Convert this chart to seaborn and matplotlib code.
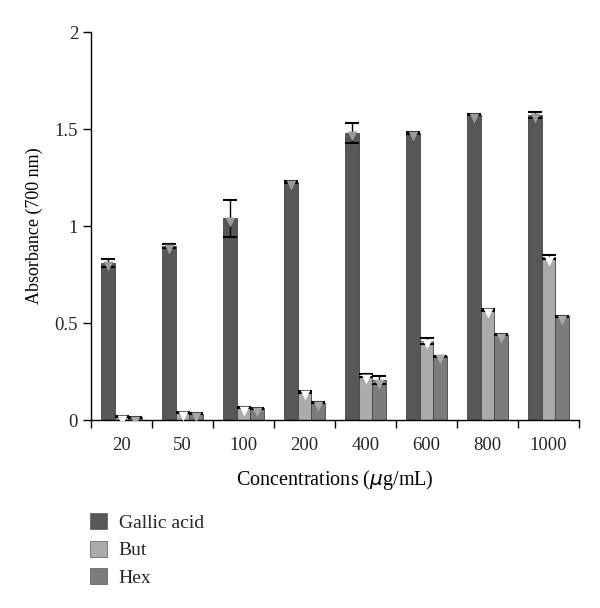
import pandas as pd
import numpy as np
import matplotlib.pyplot as plt
import seaborn as sns

sns.set_theme(style="white")
plt.rcParams["font.family"] = ["Liberation Serif", "DejaVu Serif"]

# ── Data ──────────────────────────────────────────────────
concentrations = ["20", "50", "100", "200", "400", "600", "800", "1000"]
samples = ["Gallic acid", "But", "Hex"]

gallic = [0.81, 0.90, 1.04, 1.23, 1.48, 1.48, 1.575, 1.575]
gallic_err = [0.02, 0.01, 0.095, 0.005, 0.05, 0.003, 0.003, 0.015]
but = [0.02, 0.04, 0.065, 0.145, 0.23, 0.41, 0.57, 0.84]
but_err = [0.003, 0.003, 0.003, 0.004, 0.01, 0.015, 0.005, 0.01]
hex_ = [0.015, 0.033, 0.06, 0.09, 0.205, 0.33, 0.44, 0.535]
hex_err = [0.003, 0.002, 0.003, 0.002, 0.02, 0.003, 0.002, 0.003]

colors = ["#575757", "#ababab", "#7c7c7c"]
tip_colors = ["#9a9a9a", "#ffffff", "#a8a8a8"]

df = pd.DataFrame({
    "conc": concentrations * 3,
    "sample": np.repeat(samples, len(concentrations)),
    "value": gallic + but + hex_,
})
errors = [gallic_err, but_err, hex_err]
values = [gallic, but, hex_]

# ── Plot ──────────────────────────────────────────────────
fig = plt.figure(figsize=(6.0, 6.08), dpi=100)
ax = fig.add_axes([0.152, 0.309, 0.813, 0.638])

sns.barplot(data=df, x="conc", y="value", hue="sample", order=concentrations,
            hue_order=samples, palette=colors, width=0.67, errorbar=None,
            edgecolor="#444444", linewidth=0.6, saturation=1, ax=ax)

for cont, vals, errs, tip in zip(ax.containers, values, errors, tip_colors):
    xs = [p.get_x() + p.get_width() / 2 for p in cont.patches]
    ax.errorbar(xs, vals, yerr=errs, fmt="none", ecolor="black",
                elinewidth=1.0, capsize=5, capthick=1.5)
    ax.scatter(xs, np.array(vals) - 0.017, marker="v", s=50, color=tip,
               zorder=3, linewidths=0)

ax.set_ylim(0, 2)
ax.set_xlim(-0.5, 7.5)
ax.set_yticks([0, 0.5, 1, 1.5, 2])
ax.set_yticklabels(["0", "0.5", "1", "1.5", "2"])
ax.set_xticks(np.arange(-0.5, 8, 1), minor=True)
ax.tick_params(axis="x", which="major", length=0, labelsize=13.5, pad=12)
ax.tick_params(axis="x", which="minor", length=6, width=1, color="black",
               direction="out", bottom=True)
ax.tick_params(axis="y", length=6, width=1, color="black", direction="out",
               left=True, labelsize=13.5)
for s in ["top", "right"]:
    ax.spines[s].set_visible(False)
for s in ["left", "bottom"]:
    ax.spines[s].set_color("black")
    ax.spines[s].set_linewidth(1.0)

ax.set_xlabel("Concentrations ($\\mu$g/mL)", fontsize=14.5, color="black", labelpad=10)
ax.set_ylabel("Absorbance (700 nm)", fontsize=13, color="black", labelpad=8)
ax.get_legend().remove()

handles = [plt.Rectangle((0, 0), 1, 1, facecolor=c, edgecolor="#555555",
                         linewidth=0.5) for c in colors]
fig.legend(handles, samples, loc="upper left", bbox_to_anchor=(0.12, 0.185),
           frameon=False, fontsize=14, handlelength=0.9, handleheight=0.9,
           labelspacing=0.45, handletextpad=0.6)

plt.savefig("out.png", dpi=100)
